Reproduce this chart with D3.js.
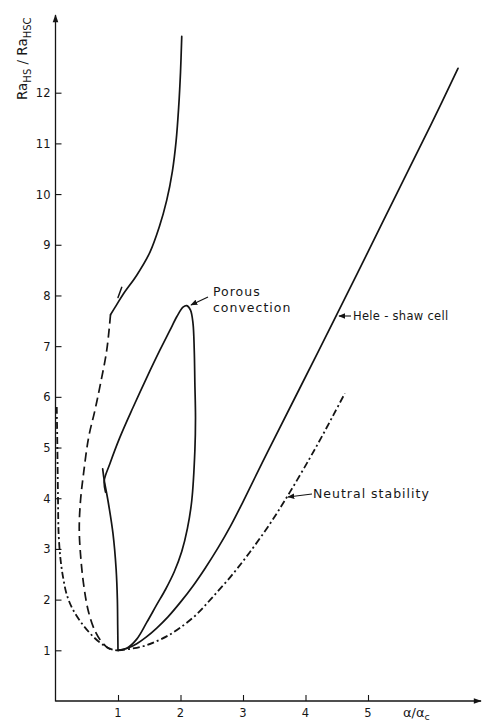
<!DOCTYPE html>
<html>
<head>
<meta charset="utf-8">
<script src="https://cdn.jsdelivr.net/npm/d3@7"></script>
<style>
  html, body { margin: 0; padding: 0; background: #fff; }
  svg { display: block; }
  text { font-family: "DejaVu Sans", sans-serif; fill: #161616; }
</style>
</head>
<body>
<svg id="chart" width="484" height="727"></svg>
<script>
// Stability diagram: Ra_HS / Ra_HSC against wavenumber ratio alpha / alpha_c

const xTicks = [1, 2, 3, 4, 5];
const yTicks = [1, 2, 3, 4, 5, 6, 7, 8, 9, 10, 11, 12];

// Hele-Shaw cell boundary (solid)
const heleShaw = [
  [1.00, 1.00], [1.15, 1.04], [1.30, 1.13], [1.45, 1.26], [1.62, 1.44],
  [1.80, 1.66], [2.00, 1.95], [2.20, 2.27], [2.40, 2.63], [2.60, 3.02],
  [2.80, 3.45], [3.00, 3.93], [3.40, 4.93], [3.90, 6.15], [4.50, 7.62],
  [5.00, 8.86], [5.50, 10.11], [6.00, 11.35], [6.44, 12.48]
];

// Neutral stability (dash-dot), left and right branches
const neutralLeft = [
  [0.02, 5.80], [0.03, 5.00], [0.04, 4.00], [0.05, 3.30], [0.08, 2.80],
  [0.12, 2.45], [0.18, 2.10], [0.28, 1.80], [0.44, 1.50], [0.62, 1.25],
  [0.78, 1.09], [0.90, 1.02], [1.00, 1.00]
];
const neutralRight = [
  [1.00, 1.00], [1.20, 1.03], [1.40, 1.08], [1.60, 1.17], [1.80, 1.29],
  [2.00, 1.45], [2.25, 1.70], [2.50, 2.03], [2.80, 2.45], [3.10, 2.92],
  [3.45, 3.53], [3.75, 4.12], [4.05, 4.75], [4.25, 5.19], [4.45, 5.65],
  [4.63, 6.07]
];

// Dashed branch joining the upper solid curve
const dashedBranch = [
  [0.88, 7.62], [0.82, 6.92], [0.72, 6.26], [0.63, 5.73], [0.53, 5.20],
  [0.45, 4.50], [0.40, 3.95], [0.38, 3.40], [0.40, 2.90], [0.45, 2.30],
  [0.53, 1.75], [0.64, 1.36], [0.75, 1.15], [0.86, 1.03], [0.97, 1.00]
];

// Upper solid branch
const upperBranch = [
  [0.88, 7.62], [0.97, 7.80], [1.08, 8.02], [1.30, 8.40], [1.51, 8.85],
  [1.66, 9.35], [1.78, 9.88], [1.87, 10.45], [1.93, 11.05], [1.97, 11.70],
  [2.00, 12.40], [2.02, 13.11]
];

// Steep solid branch rising from the minimum, crossing at the X mark
const steepBranch = [
  [1.00, 1.00], [0.995, 1.50], [0.99, 2.00], [0.97, 2.60], [0.92, 3.30],
  [0.84, 3.95], [0.78, 4.35], [0.755, 4.58]
];

// Porous convection loop
const porousLoop = [
  [0.80, 4.12], [0.78, 4.35], [0.87, 4.68], [1.03, 5.20], [1.24, 5.79],
  [1.46, 6.38], [1.67, 6.92], [1.83, 7.31], [1.94, 7.58], [2.04, 7.77],
  [2.10, 7.80], [2.16, 7.71], [2.20, 7.45], [2.22, 6.92], [2.23, 6.26],
  [2.24, 5.59], [2.23, 4.94], [2.18, 3.95], [2.11, 3.40], [2.02, 2.95],
  [1.90, 2.55], [1.76, 2.20], [1.62, 1.90], [1.46, 1.55], [1.30, 1.22],
  [1.14, 1.04], [1.00, 1.00]
];

// Short cross mark on the upper branch
const crossMark = [[1.00, 7.96], [1.06, 8.16]];

const svg = d3.select("#chart");
const x = d3.scaleLinear().domain([0, 6.8]).range([55.5, 480.5]);
const y = d3.scaleLinear().domain([0, 13]).range([701, 42]);

const ink = "#141414";

// Arrow markers
const defs = svg.append("defs");
defs.append("marker")
  .attr("id", "head")
  .attr("viewBox", "0 0 10 10")
  .attr("refX", 9).attr("refY", 5)
  .attr("markerWidth", 7).attr("markerHeight", 7)
  .attr("markerUnits", "userSpaceOnUse")
  .attr("orient", "auto")
  .append("path").attr("d", "M0,1 L10,5 L0,9 Z").attr("fill", ink);
defs.append("marker")
  .attr("id", "axishead")
  .attr("viewBox", "0 0 10 10")
  .attr("refX", 9).attr("refY", 5)
  .attr("markerWidth", 9).attr("markerHeight", 8)
  .attr("markerUnits", "userSpaceOnUse")
  .attr("orient", "auto")
  .append("path").attr("d", "M0,1.5 L10,5 L0,8.5 Z").attr("fill", ink);

// Axes
const axisG = svg.append("g");
axisG.append("line")
  .attr("x1", x(0)).attr("y1", y(0) + 0.5)
  .attr("x2", x(0)).attr("y2", 15)
  .attr("stroke", ink).attr("stroke-width", 1.3)
  .attr("marker-end", "url(#axishead)");
axisG.append("line")
  .attr("x1", x(0)).attr("y1", y(0))
  .attr("x2", 481).attr("y2", y(0))
  .attr("stroke", ink).attr("stroke-width", 1.3)
  .attr("marker-end", "url(#axishead)");

const xAxis = d3.axisTop(x).tickValues(xTicks).tickSize(6).tickFormat("");
const gx = svg.append("g").attr("transform", `translate(0,${y(0)})`).call(xAxis);
gx.select(".domain").remove();
gx.selectAll(".tick line").attr("stroke", ink).attr("stroke-width", 1.1);

const yAxis = d3.axisRight(y).tickValues(yTicks).tickSize(6).tickFormat("");
const gy = svg.append("g").attr("transform", `translate(${x(0)},0)`).call(yAxis);
gy.select(".domain").remove();
gy.selectAll(".tick line").attr("stroke", ink).attr("stroke-width", 1.1);

// Tick labels
svg.append("g").selectAll("text").data(xTicks).join("text")
  .attr("x", d => x(d)).attr("y", y(0) + 16)
  .attr("text-anchor", "middle")
  .attr("font-size", 11.5)
  .text(d => d);
svg.append("g").selectAll("text").data(yTicks).join("text")
  .attr("x", x(0) - 5).attr("y", d => y(d) + 4.5)
  .attr("text-anchor", "end")
  .attr("font-size", 11.5)
  .text(d => d);

// Axis titles
const yTitle = svg.append("text")
  .attr("transform", "translate(27,100) rotate(-90)")
  .attr("font-size", 13.5);
yTitle.append("tspan").text("Ra");
yTitle.append("tspan").attr("font-size", 10).attr("dy", 4).text("HS");
yTitle.append("tspan").attr("dy", -4).text(" / Ra");
yTitle.append("tspan").attr("font-size", 10).attr("dy", 4).text("HSC");

const xTitle = svg.append("text")
  .attr("x", 403).attr("y", 717)
  .attr("font-size", 13);
xTitle.append("tspan").text("α/α");
xTitle.append("tspan").attr("font-size", 9.5).attr("dy", 3).text("c");

// Curves
const line = d3.line().x(d => x(d[0])).y(d => y(d[1])).curve(d3.curveCatmullRom.alpha(0.5));
const curves = svg.append("g").attr("fill", "none").attr("stroke", ink)
  .attr("stroke-linecap", "round").attr("stroke-linejoin", "round");

curves.append("path").datum(heleShaw).attr("d", line).attr("stroke-width", 1.7);
curves.append("path").datum(upperBranch).attr("d", line).attr("stroke-width", 1.7);
curves.append("path").datum(steepBranch).attr("d", line).attr("stroke-width", 1.7);
curves.append("path").datum(porousLoop).attr("d", line).attr("stroke-width", 1.7);
curves.append("path").datum(crossMark).attr("d", line).attr("stroke-width", 1.5);
curves.append("path").datum(dashedBranch).attr("d", line)
  .attr("stroke-width", 1.7).attr("stroke-linecap", "butt")
  .attr("stroke-dasharray", "9,5");
curves.append("path").datum(neutralLeft).attr("d", line)
  .attr("stroke-width", 1.8).attr("stroke-linecap", "butt")
  .attr("stroke-dasharray", "7,3,2,3");
curves.append("path").datum(neutralRight).attr("d", line)
  .attr("stroke-width", 1.8).attr("stroke-linecap", "butt")
  .attr("stroke-dasharray", "7,3,2,3");

// Annotations
const ann = svg.append("g");
function pointer(x1, y1, x2, y2) {
  ann.append("line").attr("x1", x1).attr("y1", y1).attr("x2", x2).attr("y2", y2)
    .attr("stroke", ink).attr("stroke-width", 1.1).attr("marker-end", "url(#head)");
}
pointer(208, 297, 191, 305);
ann.append("text").attr("x", 213).attr("y", 296).attr("font-size", 12.5)
  .attr("letter-spacing", 1).text("Porous");
ann.append("text").attr("x", 213).attr("y", 312).attr("font-size", 12.5)
  .attr("letter-spacing", 1).text("convection");

pointer(351, 316, 339, 316);
ann.append("text").attr("x", 353).attr("y", 320).attr("font-size", 11.5)
  .attr("letter-spacing", 0.3).text("Hele - shaw cell");

pointer(312, 494, 288, 497);
ann.append("text").attr("x", 313).attr("y", 498).attr("font-size", 12.5)
  .attr("letter-spacing", 1).text("Neutral stability");
</script>
</body>
</html>
